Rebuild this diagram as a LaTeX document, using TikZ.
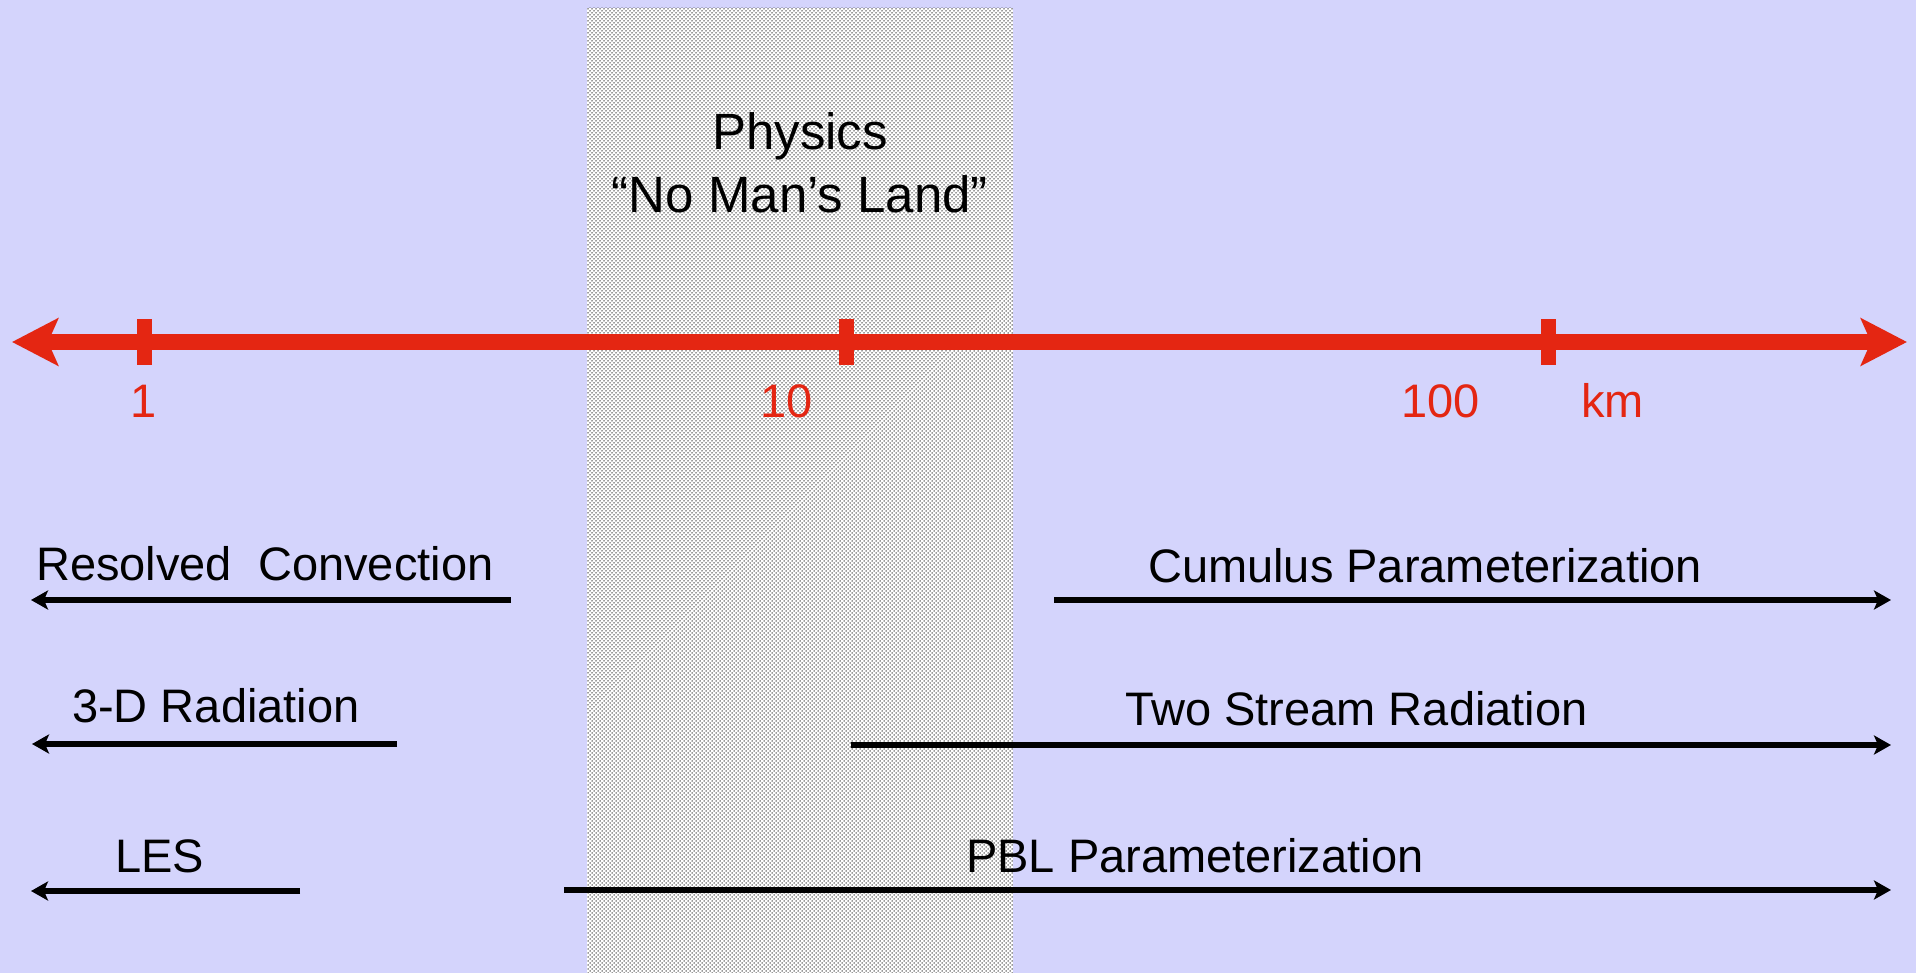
\documentclass[tikz,border=0pt]{standalone}
\usepackage{fontspec}
\setmainfont{Liberation Sans}
\usetikzlibrary{arrows.meta,patterns}
\definecolor{bg}{RGB}{212,212,252}
\definecolor{axisred}{RGB}{228,38,18}
\pgfdeclarepatternformonly{mydots}{\pgfqpoint{-1pt}{-1pt}}{\pgfqpoint{3pt}{3pt}}{\pgfqpoint{4pt}{4pt}}{%
  \pgfpathcircle{\pgfqpoint{0pt}{0pt}}{0.75pt}%
  \pgfpathcircle{\pgfqpoint{2pt}{2pt}}{0.75pt}%
  \pgfusepath{fill}}
\begin{document}
\begin{tikzpicture}[x=1pt,y=-1pt,
  lbl/.style={inner sep=0pt, anchor=base west, font=\fontsize{47}{56}\selectfont},
  titlelbl/.style={inner sep=0pt, anchor=base, font=\fontsize{51}{61}\selectfont},
  redlbl/.style={lbl, text=axisred},
  scalearrow/.style={draw=axisred, line width=16pt,
    {Stealth[length=46pt,width=47pt,inset=10pt]}-{Stealth[length=46pt,width=47pt,inset=10pt]}},
  tickmark/.style={fill=axisred, draw=none, minimum width=15pt, minimum height=46pt, inner sep=0pt},
  rangearrow/.style={draw=black, line width=6pt, -{Stealth[length=17pt,width=19pt,inset=4pt]}}
]
\useasboundingbox (0,0) rectangle (1916,973);
\fill[bg] (0,0) rectangle (1916,973);
% no man's land
\fill[white] (587,8) rectangle (1013,973);
\fill[pattern=mydots, pattern color=black!80] (587,8) rectangle (1013,973);
\node[titlelbl] (phys) at (800,150) {Physics};
\node[titlelbl] (nml) at (800,213) {“No Man’s Land”};
% scale axis
\coordinate (axL) at (12,342);
\coordinate (axR) at (1907,342);
\draw[scalearrow] (axL) -- (axR);
\node[tickmark] (t1) at (144.5,342) {};
\node[tickmark] (t10) at (846,342) {};
\node[tickmark] (t100) at (1548,342) {};
\node[redlbl] (l1) at (130,417) {1};
\node[redlbl] (l10) at (760,417) {10};
\node[redlbl] (l100) at (1401,417) {100};
\node[redlbl] (lkm) at (1581,417) {km};
% row 1
\node[lbl] (rc) at (36,580) {Resolved\ \ Convection};
\coordinate (rcS) at (511,600); \coordinate (rcE) at (31,600);
\draw[rangearrow] (rcS) -- (rcE);
\node[lbl] (cp) at (1148,582) {Cumulus Parameterization};
\coordinate (cpS) at (1054,600); \coordinate (cpE) at (1891,600);
\draw[rangearrow] (cpS) -- (cpE);
% row 2
\node[lbl] (tdr) at (72,722) {3-D Radiation};
\coordinate (tdS) at (397,744); \coordinate (tdE) at (32,744);
\draw[rangearrow] (tdS) -- (tdE);
\node[lbl] (tsr) at (1125,725) {Two Stream Radiation};
\coordinate (tsS) at (851,745); \coordinate (tsE) at (1891,745);
\draw[rangearrow] (tsS) -- (tsE);
% row 3
\node[lbl] (les) at (115,872) {LES};
\coordinate (leS) at (300,891); \coordinate (leE) at (31,891);
\draw[rangearrow] (leS) -- (leE);
\node[lbl] (pbl) at (966,872) {PBL Parameterization};
\coordinate (pbS) at (564,890); \coordinate (pbE) at (1891,890);
\draw[rangearrow] (pbS) -- (pbE);
\end{tikzpicture}
\end{document}
